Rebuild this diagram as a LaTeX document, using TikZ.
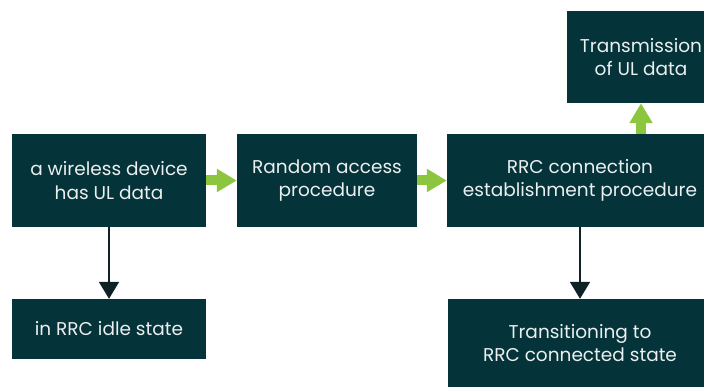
\documentclass[tikz,border=0pt]{standalone}
\usepackage{fontspec}
\setmainfont{Poppins}
\usetikzlibrary{arrows.meta}
\definecolor{boxteal}{HTML}{05333A}
\definecolor{flowgreen}{HTML}{8CC63F}
\definecolor{linkblack}{HTML}{0E2226}

\begin{document}
\begin{tikzpicture}[x=1pt, y=-1pt,
			box_style/.style={rectangle,fill=boxteal,text=white!92!boxteal,align=center,inner sep=0pt,font=\fontsize{18.5}{23.5}\selectfont},
			flow_style/.style={draw=flowgreen,line width=10pt,-{Triangle[width=22pt,length=20pt]}},
			link_style/.style={draw=linkblack,line width=2pt,-{Triangle[width=20pt,length=17pt]}}]
			\clip (0,0) rectangle (704,387);
			\node[box_style, minimum width=194pt, minimum height=93pt] (nhas) at (109,180.5) {a wireless device\\has UL data};
			\node[box_style, minimum width=180pt, minimum height=93pt] (nrach) at (327,180.5) {Random access\\procedure};
			\node[box_style, minimum width=266pt, minimum height=93pt] (nrrc) at (580,180.5) {RRC connection\\establishment procedure};
			\node[box_style, minimum width=148pt, minimum height=92pt] (ntx) at (641,57) {Transmission\\of UL data};
			\node[box_style, minimum width=194pt, minimum height=60pt] (nidle) at (109,329) {in RRC idle state};
			\node[box_style, minimum width=264pt, minimum height=88pt] (nconn) at (580,343) {Transitioning to\\RRC connected state};
			\draw[flow_style]  (nhas) -- (nrach);
			\draw[flow_style]  (nrach) -- (nrrc);
			\draw[flow_style]  (nrrc.north -| ntx) -- (ntx.south);
			\draw[link_style]  (nhas) -- (nidle);
			\draw[link_style]  (nrrc) -- (nconn);
\end{tikzpicture}
\end{document}
